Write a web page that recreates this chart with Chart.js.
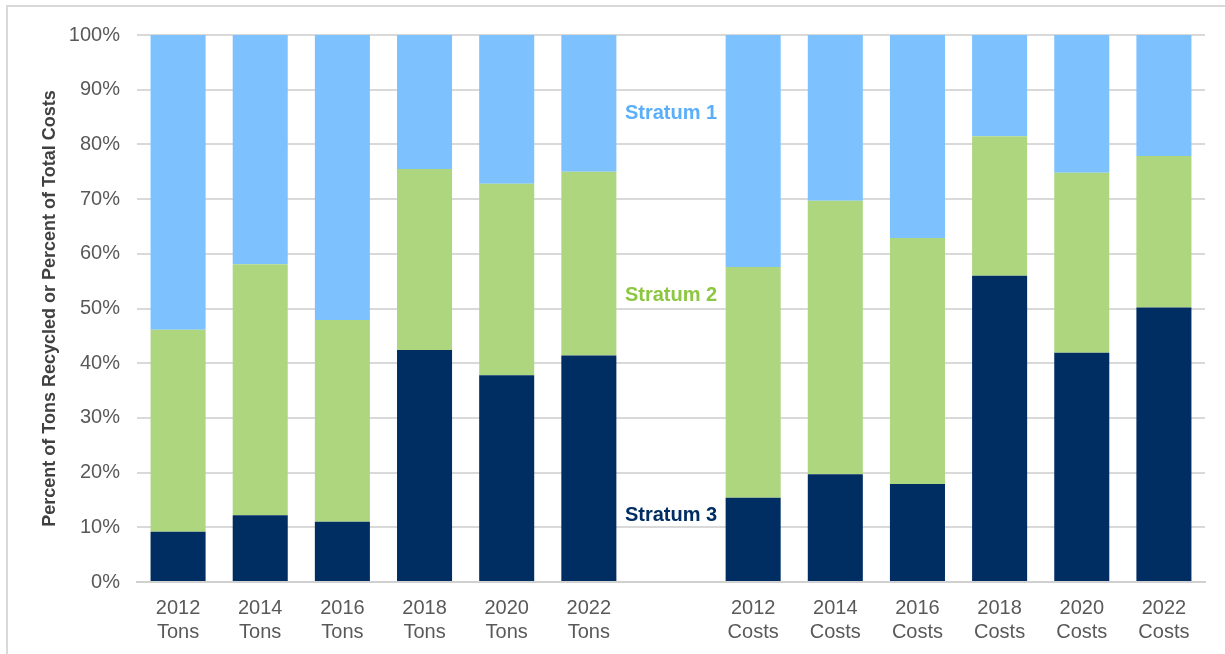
<!DOCTYPE html>
<html lang="en">
<head>
    <meta charset="UTF-8">
    <title>Recycling by Stratum</title>
    <script src="https://cdn.jsdelivr.net/npm/chart.js"></script>
    <style>
        html, body { margin: 0; padding: 0; background: #fff; }
        .frame {
            position: absolute;
            left: 0; top: 0;
            width: 1225px; height: 654px;
            overflow: hidden;
        }
        /* light outline of the chart box, runs off the right and bottom edges */
        .frame .edge {
            position: absolute;
            left: 6px; top: 5px;
            width: 1240px; height: 670px;
            border: 2px solid #d9d9d9;
            box-sizing: border-box;
        }
        canvas { position: absolute; left: 0; top: 0; }
    </style>
</head>
<body>
    <div class="frame">
        <div class="edge"></div>
        <canvas id="strataChart" width="1225" height="654"></canvas>
    </div>

    <script>
        // Categories: six years of tons, an empty spacer, six years of costs
        const years = ['2012', '2014', '2016', '2018', '2020', '2022'];
        const labels = years.map(y => [y, 'Tons'])
            .concat([''])
            .concat(years.map(y => [y, 'Costs']));

        // Share of each stratum (percent), spacer slot left empty
        const stratum3 = [9.2, 12.2, 11.0, 42.4, 37.8, 41.4, null, 15.4, 19.7, 17.9, 56.0, 41.9, 50.2];
        const stratum2 = [36.9, 45.9, 36.9, 33.1, 35.0, 33.6, null, 42.2, 50.0, 45.0, 25.5, 32.9, 27.7];
        const stratum1 = [53.9, 41.9, 52.1, 24.5, 27.2, 25.0, null, 42.4, 30.3, 37.1, 18.5, 25.2, 22.1];

        const yTicks = [0, 10, 20, 30, 40, 50, 60, 70, 80, 90, 100];

        // In-plot series names, written in the spacer column
        const strataNames = ['Stratum 1', 'Stratum 2', 'Stratum 3'];
        const strataNameLevels = [85.6, 52.3, 12.2];
        const strataNameColors = ['#5AAEFA', '#8DC641', '#002D62'];

        const FONT = "'Liberation Sans', Arial, sans-serif";

        const strataNamePlugin = {
            id: 'strataNames',
            afterDatasetsDraw(chart) {
                const { ctx, scales: { x, y } } = chart;
                const cx = x.getPixelForValue(6);
                ctx.save();
                ctx.font = 'bold 20px ' + FONT;
                ctx.textAlign = 'center';
                ctx.textBaseline = 'middle';
                strataNames.forEach((name, i) => {
                    ctx.fillStyle = strataNameColors[i];
                    ctx.fillText(name, cx, y.getPixelForValue(strataNameLevels[i]));
                });
                ctx.restore();
            }
        };

        const ctx = document.getElementById('strataChart').getContext('2d');

        const barStyle = { barPercentage: 0.67, categoryPercentage: 1.0, borderWidth: 0 };

        new Chart(ctx, {
            type: 'bar',
            data: {
                labels: labels,
                datasets: [
                    Object.assign({ label: 'Stratum 3', data: stratum3, backgroundColor: '#002D62' }, barStyle),
                    Object.assign({ label: 'Stratum 2', data: stratum2, backgroundColor: '#AED67F' }, barStyle),
                    Object.assign({ label: 'Stratum 1', data: stratum1, backgroundColor: '#7DC2FE' }, barStyle)
                ]
            },
            options: {
                responsive: false,
                animation: false,
                devicePixelRatio: 1,
                layout: { padding: { left: 0, top: 35, right: 20, bottom: 0 } },
                plugins: {
                    legend: { display: false },
                    tooltip: { enabled: false }
                },
                scales: {
                    x: {
                        stacked: true,
                        grid: { display: false, drawTicks: false },
                        border: { display: true, color: '#d0d0d0', width: 2 },
                        ticks: {
                            color: '#595959',
                            font: { family: FONT, size: 20, lineHeight: 1.2 },
                            padding: 14,
                            maxRotation: 0,
                            autoSkip: false
                        },
                        afterFit(scale) { scale.height = 72; }
                    },
                    y: {
                        stacked: true,
                        min: 0,
                        max: 100,
                        afterBuildTicks(scale) {
                            scale.ticks = yTicks.map(v => ({ value: v }));
                        },
                        grid: { color: '#d9d9d9', lineWidth: 2, drawTicks: false },
                        border: { display: false },
                        ticks: {
                            color: '#595959',
                            font: { family: FONT, size: 20 },
                            padding: 17,
                            callback: v => v + '%'
                        },
                        title: {
                            display: true,
                            text: 'Percent of Tons Recycled or Percent of Total Costs',
                            color: '#404040',
                            font: { family: FONT, size: 18, weight: 'bold' },
                            padding: { top: 39, bottom: 0 }
                        },
                        afterFit(scale) { scale.width = 137; }
                    }
                }
            },
            plugins: [strataNamePlugin]
        });
    </script>
</body>
</html>
